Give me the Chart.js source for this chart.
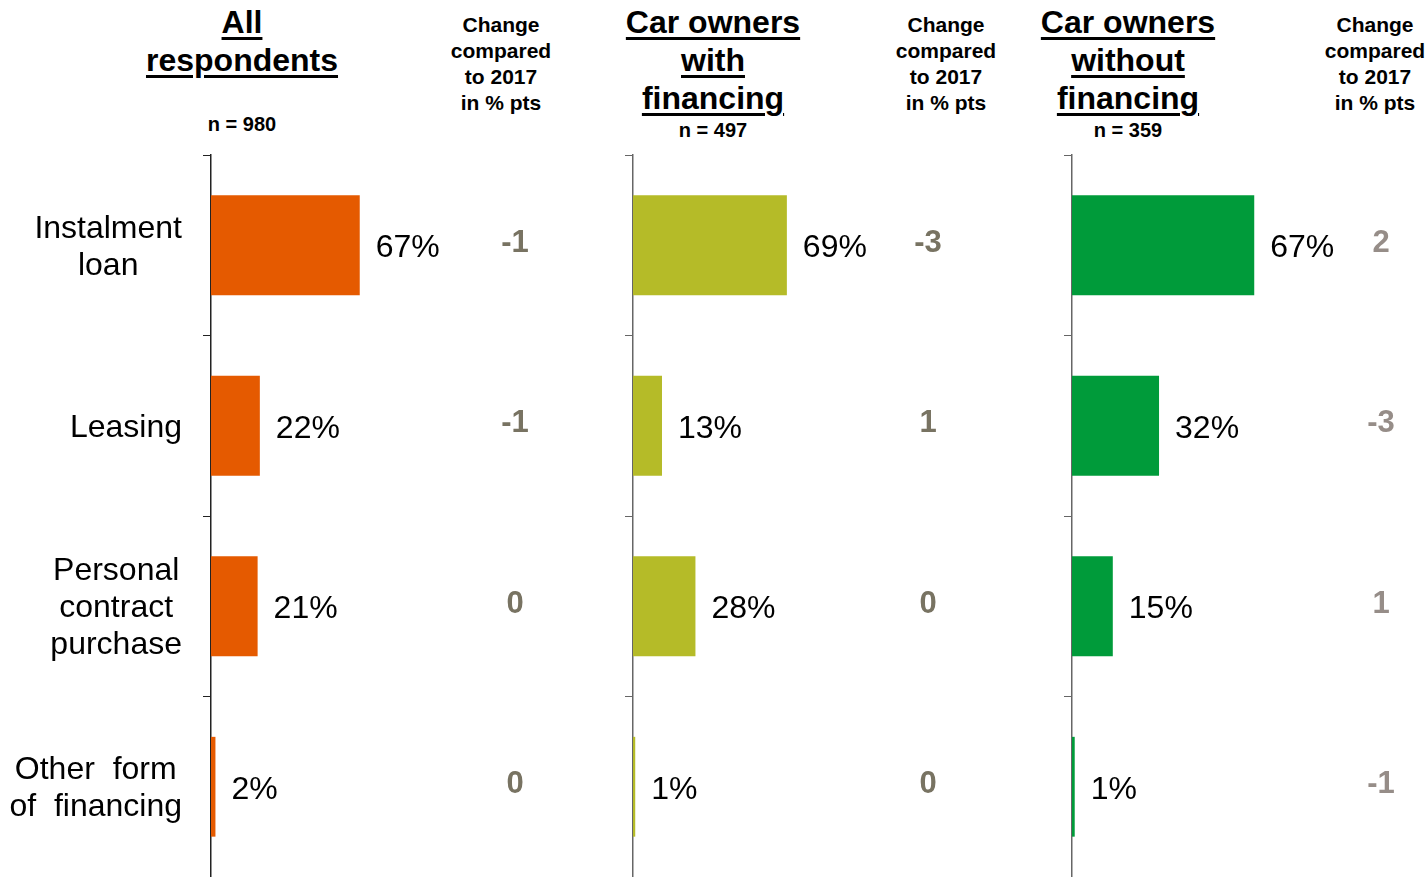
<!DOCTYPE html>
<html>
<head>
<meta charset="utf-8">
<script src="https://cdn.jsdelivr.net/npm/chart.js@4/dist/chart.umd.min.js"></script>
<style>
  body { margin: 0; background: #fff; font-family: "Liberation Sans", Arial, sans-serif; }
  #wrap { position: relative; width: 1428px; height: 877px; overflow: hidden; }
  canvas { position: absolute; top: 0; }
  .title { position: absolute; top: 3px; font-size: 32px; font-weight: bold; line-height: 38px;
           text-align: center; text-decoration: underline; text-decoration-thickness: 3px;
           text-underline-offset: 4px; white-space: nowrap; transform: translateX(-50%); }
  .chg { position: absolute; top: 12px; font-size: 21px; font-weight: bold; line-height: 26px;
         text-align: center; white-space: nowrap; transform: translateX(-50%); }
  .n { position: absolute; font-size: 20px; font-weight: bold; line-height: 20px;
       white-space: nowrap; transform: translateX(-50%); }
</style>
</head>
<body>
<div id="wrap">
  <div class="title" style="left:242px">All<br>respondents</div>
  <div class="n" style="left:242px; top:114px">n = 980</div>
  <div class="chg" style="left:501px">Change<br>compared<br>to 2017<br>in % pts</div>

  <div class="title" style="left:713px">Car owners<br>with<br>financing</div>
  <div class="n" style="left:713px; top:120px">n = 497</div>
  <div class="chg" style="left:946px">Change<br>compared<br>to 2017<br>in % pts</div>

  <div class="title" style="left:1128px">Car owners<br>without<br>financing</div>
  <div class="n" style="left:1128px; top:120px">n = 359</div>
  <div class="chg" style="left:1375px">Change<br>compared<br>to 2017<br>in % pts</div>

  <canvas id="c1" width="600" height="877" style="left:0px"></canvas>
  <canvas id="c2" width="430" height="877" style="left:600px"></canvas>
  <canvas id="c3" width="398" height="877" style="left:1030px"></canvas>
</div>

<script>
// categories (line-broken as in the original)
const categories = [["Instalment", "loan"], ["Leasing"], ["Personal", "contract", "purchase"], ["Other  form", "of  financing"]];

// share in %
const allValues = [67, 22, 21, 2];
const withFinancingValues = [69, 13, 28, 1];
const withoutFinancingValues = [67, 32, 15, 1];

// change compared to 2017 in % pts
const allChange = [-1, -1, 0, 0];
const withFinancingChange = [-3, 1, 0, 0];
const withoutFinancingChange = [2, -3, 1, -1];

const FONT = '"Liberation Sans", Arial, sans-serif';

// draws value labels, change column and (optionally) category labels
const panelText = {
    id: "panelText",
    afterDatasetsDraw(chart, args, opts) {
        const ctx = chart.ctx;
        const xs = chart.scales.x;
        const ys = chart.scales.y;
        const values = chart.data.datasets[0].data;
        ctx.save();

        values.forEach((v, i) => {
            const y = ys.getPixelForValue(i);
            // value label
            ctx.font = "32px " + FONT;
            ctx.fillStyle = "#000";
            ctx.textAlign = "left";
            ctx.textBaseline = "middle";
            ctx.fillText(v + "%", xs.getPixelForValue(v) + 16, y + 3);

            // change column
            ctx.font = "bold 31px " + FONT;
            ctx.fillStyle = opts.changeColor;
            ctx.textAlign = "center";
            ctx.fillText(String(opts.changes[i]), opts.changeX, y - 2);
        });

        if (opts.showCategories) {
            ctx.font = "32px " + FONT;
            ctx.fillStyle = "#000";
            ctx.textAlign = "center";
            ctx.textBaseline = "middle";
            categories.forEach((lines, i) => {
                const y = ys.getPixelForValue(i) + 2;
                const w = Math.max(...lines.map(l => ctx.measureText(l).width));
                const cx = 182 - w / 2;
                lines.forEach((line, k) => {
                    ctx.fillText(line, cx, y + (k - (lines.length - 1) / 2) * 37);
                });
            });
        }
        ctx.restore();
    }
};

function makePanel(id, values, changes, color, opts) {
    const ctx = document.getElementById(id).getContext("2d");
    return new Chart(ctx, {
        type: "bar",
        data: {
            labels: categories.map(c => c.join(" ")),
            datasets: [{
                data: values,
                backgroundColor: color,
                categoryPercentage: 1,
                barPercentage: 0.553
            }]
        },
        options: {
            indexAxis: "y",
            responsive: false,
            animation: false,
            layout: { padding: { left: opts.padLeft, right: opts.padRight, top: 155, bottom: 0 } },
            scales: {
                x: { display: false, min: 0, max: 100 },
                y: {
                    offset: true,
                    afterFit: scale => { scale.width = 8; },
                    ticks: { display: false },
                    grid: { offset: true, drawOnChartArea: false, drawTicks: true, tickLength: 8, color: opts.axisColor },
                    border: { display: true, color: opts.axisColor, width: 1.5 }
                }
            },
            plugins: {
                legend: { display: false },
                tooltip: { enabled: false },
                panelText: {
                    changes: changes,
                    changeX: opts.changeX,
                    changeColor: opts.changeColor,
                    showCategories: opts.showCategories
                }
            }
        },
        plugins: [panelText]
    });
}

makePanel("c1", allValues, allChange, "#e55a00",
    { padLeft: 203, padRight: 167, changeX: 515, changeColor: "#787362", axisColor: "#222", showCategories: true });
makePanel("c2", withFinancingValues, withFinancingChange, "#b5bb28",
    { padLeft: 25, padRight: 174, changeX: 328, changeColor: "#787362", axisColor: "#666", showCategories: false });
makePanel("c3", withoutFinancingValues, withoutFinancingChange, "#009b3a",
    { padLeft: 34, padRight: 84, changeX: 351, changeColor: "#968d88", axisColor: "#666", showCategories: false });
</script>
</body>
</html>
